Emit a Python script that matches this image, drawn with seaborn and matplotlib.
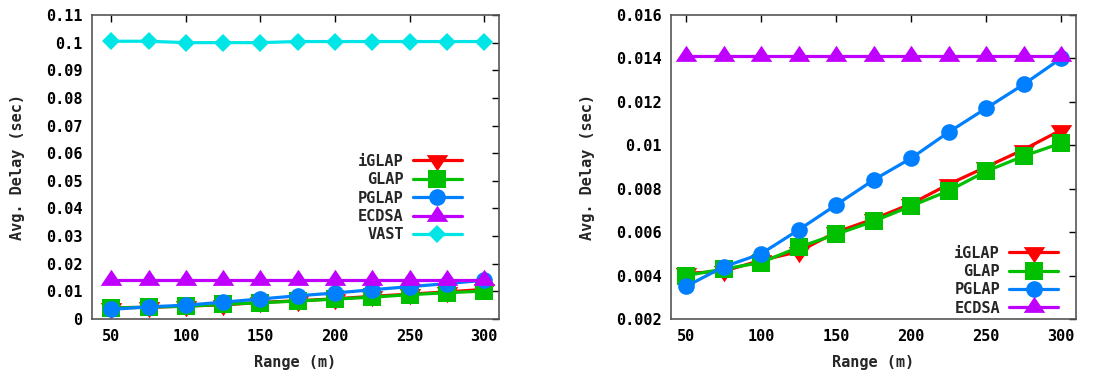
import matplotlib
matplotlib.use("Agg")
import matplotlib.pyplot as plt
import seaborn as sns
import pandas as pd
from matplotlib.ticker import FormatStrFormatter, MultipleLocator

ranges = [50, 75, 100, 125, 150, 175, 200, 225, 250, 275, 300]
iglap = [0.0041, 0.0042, 0.0047, 0.0051, 0.0060, 0.0066, 0.0073, 0.0082, 0.0090, 0.0098, 0.0107]
glap = [0.0040, 0.0043, 0.0046, 0.0053, 0.0059, 0.0065, 0.0072, 0.0079, 0.0088, 0.0095, 0.0101]
pglap = [0.0035, 0.0044, 0.0050, 0.0061, 0.00725, 0.0084, 0.0094, 0.0106, 0.0117, 0.0128, 0.0140]
ecdsa = [0.0141] * 11
vast = [0.1005, 0.1005, 0.1000, 0.1000, 0.1000, 0.1004, 0.1004, 0.1004, 0.1004, 0.1004, 0.1004]

names = ["iGLAP", "GLAP", "PGLAP", "ECDSA", "VAST"]
colors = {"iGLAP": "#ff0000", "GLAP": "#00c000", "PGLAP": "#0080ff",
          "ECDSA": "#c000ff", "VAST": "#00e6e6"}
tri_up = [(-1, -0.5), (1, -0.5), (0, 1.0), (-1, -0.5)]
tri_dn = [(-1, 0.5), (1, 0.5), (0, -1.0), (-1, 0.5)]
markers = {"iGLAP": tri_dn, "GLAP": "s", "PGLAP": "o", "ECDSA": tri_up, "VAST": "D"}
msize = {"iGLAP": 15.5, "GLAP": 12.5, "PGLAP": 12, "ECDSA": 15.5, "VAST": 9}

series = dict(zip(names, [iglap, glap, pglap, ecdsa, vast]))

sns.set_style("white")
plt.rcParams["font.family"] = ["DejaVu Sans Mono", "DejaVu Sans"]
plt.rcParams["font.weight"] = "bold"
FS = 11

fig = plt.figure(figsize=(11.09, 3.74), dpi=100)
W, H = 1109, 374
axL = fig.add_axes([92 / W, 55 / H, 407 / W, 304 / H])
axR = fig.add_axes([671 / W, 55 / H, 405 / W, 304 / H])


def draw(ax, keys):
    for k in keys:
        df = pd.DataFrame({"Range": ranges, "Delay": series[k]})
        sns.lineplot(data=df, x="Range", y="Delay", ax=ax, color=colors[k],
                     marker=markers[k], markersize=msize[k], markeredgewidth=0,
                     linewidth=2.3, label=k)
    ax.set_xlabel("Range (m)", fontsize=FS, fontweight="bold", labelpad=8)
    ax.set_ylabel("Avg. Delay (sec)", fontsize=FS, fontweight="bold", labelpad=15)
    ax.xaxis.set_major_locator(MultipleLocator(50))
    ax.yaxis.set_major_formatter(FormatStrFormatter("%g"))
    ax.tick_params(direction="in", length=5, width=1, top=True, right=True,
                   labelsize=FS, colors="black", pad=7)
    for lab in ax.get_xticklabels() + ax.get_yticklabels():
        lab.set_fontweight("bold")
    for s in ax.spines.values():
        s.set_color("#555555")
        s.set_linewidth(1.2)


draw(axL, names)
axL.set_xlim(37, 310)
axL.set_ylim(0, 0.11)
axL.yaxis.set_major_locator(MultipleLocator(0.01))
axL.legend(loc="center right", bbox_to_anchor=(0.935, 0.398), frameon=False,
           markerfirst=False, handlelength=3.2, labelspacing=0.22,
           borderpad=0.2, handletextpad=0.6,
           prop={"weight": "bold", "size": FS})

draw(axR, names[:4])
axR.set_xlim(40, 310)
axR.set_ylim(0.002, 0.016)
axR.yaxis.set_major_locator(MultipleLocator(0.002))
axR.legend(loc="lower right", bbox_to_anchor=(0.982, -0.024), frameon=False,
           markerfirst=False, handlelength=3.2, labelspacing=0.22,
           borderpad=0.2, handletextpad=0.6,
           prop={"weight": "bold", "size": FS})

fig.savefig("out.png", dpi=100)
